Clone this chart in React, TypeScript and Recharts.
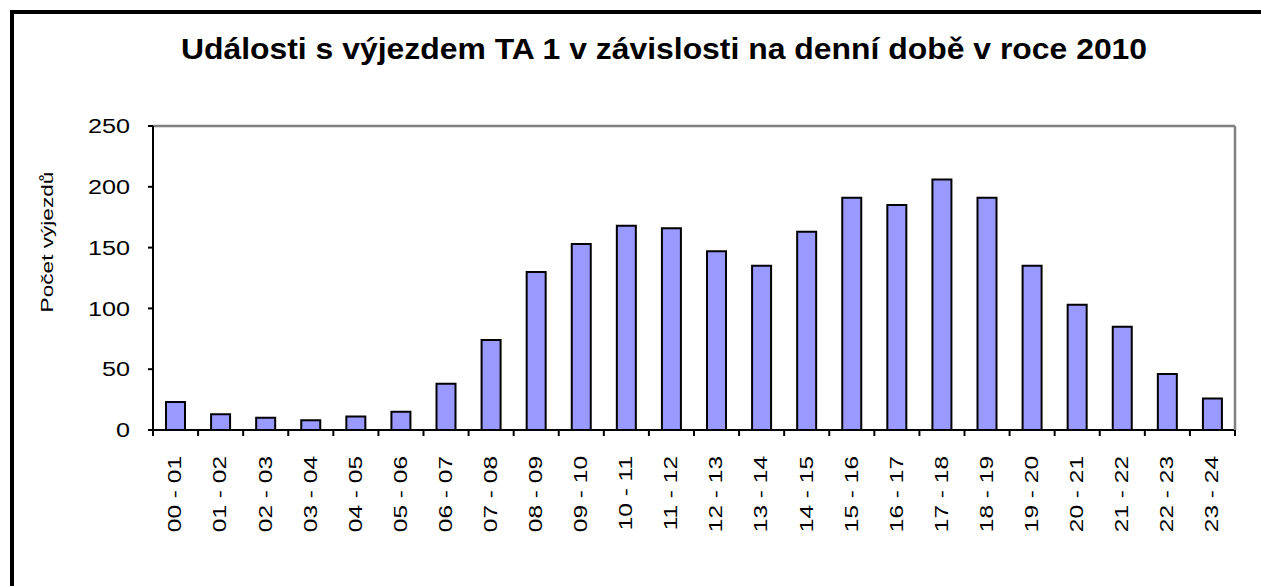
import { BarChart, Bar, XAxis, YAxis, CartesianGrid, ReferenceLine } from "recharts";

const hours = [
  "00 - 01", "01 - 02", "02 - 03", "03 - 04", "04 - 05", "05 - 06",
  "06 - 07", "07 - 08", "08 - 09", "09 - 10", "10 - 11", "11 - 12",
  "12 - 13", "13 - 14", "14 - 15", "15 - 16", "16 - 17", "17 - 18",
  "18 - 19", "19 - 20", "20 - 21", "21 - 22", "22 - 23", "23 - 24",
];

const departures = [
  23, 13, 10, 8, 11, 15, 38, 74, 130, 153, 168, 166,
  147, 135, 163, 191, 185, 206, 191, 135, 103, 85, 46, 26,
];

const yTicks = [0, 50, 100, 150, 200, 250];

const data = hours.map((name, i) => ({ name, count: departures[i] }));

// category label rotated upwards (glyphs stretched like the original), plus a boundary tick
const HourTick = (props: any) => {
  const { x, y, payload, index } = props;
  const half = payload && payload.offset ? payload.offset : 22.5;
  const ty = y + 26;
  return (
    <g>
      <line x1={x - half} y1={y} x2={x - half} y2={y + 6} stroke="#000" strokeWidth={2} />
      {index === hours.length - 1 && (
        <line x1={x + half} y1={y} x2={x + half} y2={y + 6} stroke="#000" strokeWidth={2} />
      )}
      <text
        transform={`translate(${x}, ${ty}) rotate(-90) scale(1.36, 1)`}
        textAnchor="end"
        dominantBaseline="central"
        fontSize={18}
        fill="#000"
      >
        {payload.value}
      </text>
    </g>
  );
};

const CountTick = (props: any) => {
  const { x, y, payload } = props;
  return (
    <text
      transform={`translate(${x}, ${y}) scale(1.2, 1)`}
      textAnchor="end"
      dominantBaseline="central"
      fontSize={21}
      fill="#000"
    >
      {payload.value}
    </text>
  );
};

export default function App() {
  return (
    <div
      style={{
        position: "absolute",
        left: 0,
        top: 0,
        width: 1261,
        height: 586,
        background: "#fff",
        overflow: "hidden",
        fontFamily: "Arial, 'Liberation Sans', sans-serif",
      }}
    >
      <div
        style={{
          position: "absolute",
          left: 10,
          top: 10,
          width: 1400,
          height: 700,
          borderLeft: "4px solid #000",
          borderTop: "4px solid #000",
        }}
      />
      <div
        style={{
          position: "absolute",
          left: 664,
          top: 33,
          transform: "translateX(-50%) scaleX(1.1)",
          fontWeight: "bold",
          fontSize: 29,
          color: "#000",
          whiteSpace: "nowrap",
        }}
      >
        Události s výjezdem TA 1 v závislosti na denní době v roce 2010
      </div>
      <div
        style={{
          position: "absolute",
          left: 48,
          top: 242,
          transform: "translate(-50%, -50%) rotate(-90deg) scaleX(1.33)",
          fontSize: 17,
          color: "#000",
          whiteSpace: "nowrap",
        }}
      >
        Počet výjezdů
      </div>
      <BarChart
        width={1261}
        height={586}
        data={data}
        margin={{ top: 126, right: 25, left: 0, bottom: 56 }}
        style={{ position: "absolute", left: 0, top: 0 }}
      >
        <CartesianGrid vertical={false} stroke="#000" strokeWidth={2} />
        <ReferenceLine yAxisId="left" y={250} stroke="#808080" strokeWidth={2.5} />
        <XAxis
          dataKey="name"
          height={100}
          interval={0}
          axisLine={{ stroke: "#000", strokeWidth: 2 }}
          tickLine={false}
          tickSize={0}
          tickMargin={0}
          tick={<HourTick />}
        />
        <YAxis
          yAxisId="left"
          width={153}
          domain={[0, 250]}
          ticks={yTicks}
          interval={0}
          axisLine={{ stroke: "#000", strokeWidth: 2 }}
          tickLine={{ stroke: "#000", strokeWidth: 2 }}
          tickSize={5}
          tickMargin={18}
          tick={<CountTick />}
        />
        <YAxis
          yAxisId="right"
          orientation="right"
          width={1}
          domain={[0, 250]}
          tick={false}
          tickLine={false}
          axisLine={{ stroke: "#808080", strokeWidth: 2.5 }}
        />
        <Bar
          yAxisId="left"
          dataKey="count"
          fill="#9999FF"
          stroke="#000"
          strokeWidth={2}
          barSize={19}
          isAnimationActive={false}
        />
      </BarChart>
    </div>
  );
}
